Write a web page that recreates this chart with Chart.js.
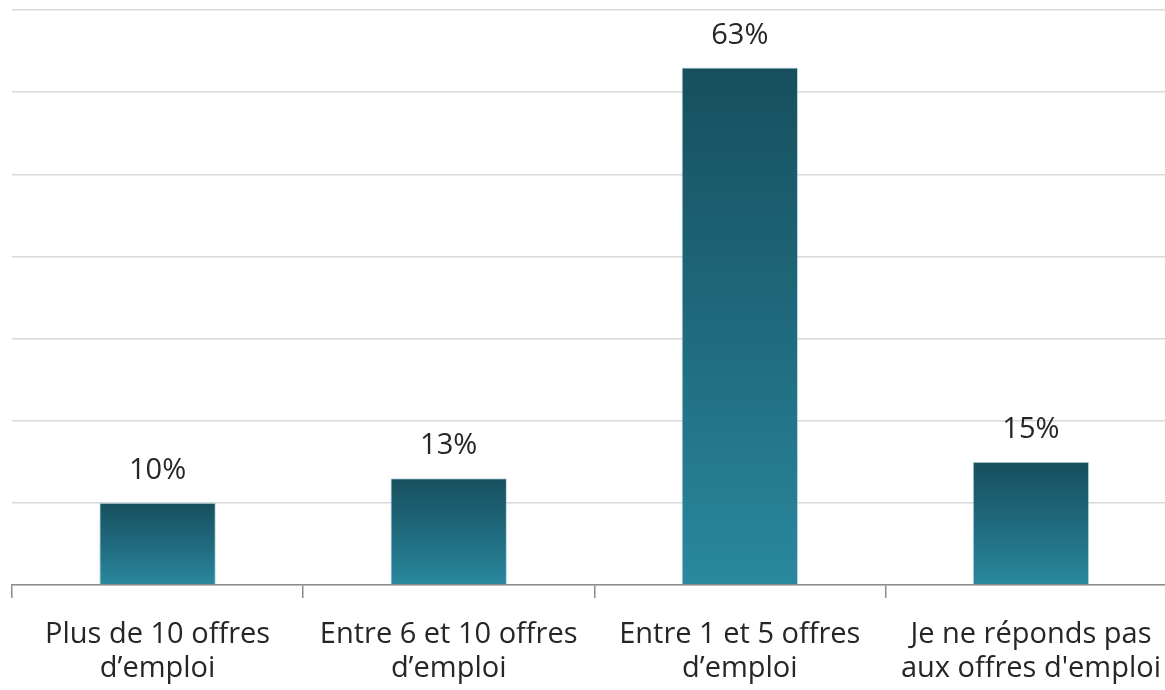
<!DOCTYPE html>
<html>
<head>
<meta charset="utf-8">
<script src="https://cdn.jsdelivr.net/npm/chart.js@4"></script>
<style>
  html, body { margin: 0; padding: 0; background: #fff; overflow: hidden; }
</style>
</head>
<body>
<canvas id="chart" width="1180" height="690"></canvas>
<script>
var categories = [
    ['Plus de 10 offres', 'd\u2019emploi'],
    ['Entre 6 et 10 offres', 'd\u2019emploi'],
    ['Entre 1 et 5 offres', 'd\u2019emploi'],
    ['Je ne r\u00e9ponds pas', "aux offres d'emploi"]
];
var values = [10, 13, 63, 15];
var yTicks = [0, 10, 20, 30, 40, 50, 60, 70];

var fontFamily = "'Open Sans', 'Noto Sans', sans-serif";

// gradient per bar, from its own top down to the base
function barGradient(context) {
    var chart = context.chart;
    var yScale = chart.scales.y;
    if (!yScale || context.dataIndex === undefined) {
        return '#21718a';
    }
    var top = yScale.getPixelForValue(values[context.dataIndex]);
    var base = yScale.getPixelForValue(0);
    if (!isFinite(top) || !isFinite(base) || top === base) {
        return '#21718a';
    }
    var g = chart.ctx.createLinearGradient(0, top, 0, base);
    g.addColorStop(0, '#174f5e');
    g.addColorStop(0.5, '#1f6a7d');
    g.addColorStop(1, '#2a889e');
    return g;
}

var valueLabels = {
    id: 'valueLabels',
    afterDatasetsDraw: function (chart) {
        var ctx = chart.ctx;
        var meta = chart.getDatasetMeta(0);
        ctx.save();
        ctx.font = '29px ' + fontFamily;
        ctx.fillStyle = '#262626';
        ctx.textAlign = 'center';
        ctx.textBaseline = 'alphabetic';
        meta.data.forEach(function (bar, i) {
            ctx.fillText(values[i] + '%', bar.x, bar.y - 24);
        });
        ctx.restore();
    }
};

new Chart(document.getElementById('chart'), {
    type: 'bar',
    data: {
        labels: categories,
        datasets: [{
            data: values,
            backgroundColor: barGradient,
            borderColor: 'rgba(140,190,205,0.6)',
            borderWidth: 1,
            categoryPercentage: 0.4,
            barPercentage: 1
        }]
    },
    options: {
        responsive: false,
        animation: false,
        layout: { padding: { left: 12, top: 10, right: 0, bottom: 0 } },
        plugins: {
            legend: { display: false },
            tooltip: { enabled: false }
        },
        scales: {
            x: {
                offset: true,
                afterFit: function (axis) {
                    axis.height = 105;
                },
                grid: {
                    offset: true,
                    drawOnChartArea: false,
                    tickLength: 13,
                    color: '#8c8c8c',
                    lineWidth: 1.5
                },
                border: { color: '#8c8c8c', width: 1.5 },
                ticks: {
                    color: '#262626',
                    padding: 19,
                    maxRotation: 0,
                    autoSkip: false,
                    font: { family: fontFamily, size: 29, lineHeight: 1.2 }
                }
            },
            y: {
                min: 0,
                max: 70,
                afterBuildTicks: function (axis) {
                    axis.ticks = yTicks.map(function (v) { return { value: v }; });
                },
                grid: { color: '#d9d9d9', lineWidth: 1.5, drawTicks: false },
                border: { display: false },
                ticks: { display: false }
            }
        }
    },
    plugins: [valueLabels]
});
</script>
</body>
</html>
